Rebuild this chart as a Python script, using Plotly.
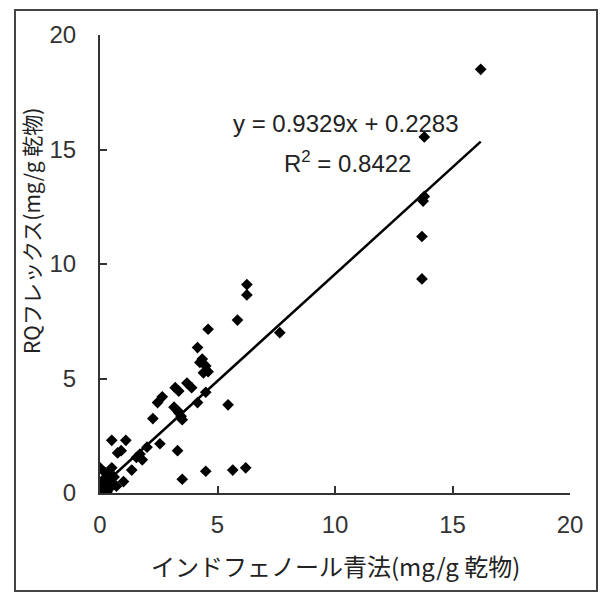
import plotly.graph_objects as go

# Data
x_vals = [16.2, 13.8, 13.8, 13.75, 13.7, 13.7, 7.65, 6.25, 6.25, 5.85, 4.6, 4.15,
          4.35, 4.25, 4.5, 4.6, 4.4, 3.7, 3.9, 3.2, 3.35, 2.65, 2.45, 3.15, 3.35, 3.45,
          3.3, 4.15, 4.5, 5.45, 2.25, 3.5, 2.55, 3.3, 3.5, 4.5, 5.65, 6.2, 1.8, 1.55,
          1.7, 2.0, 0.5, 1.1, 0.75, 0.9, 1.35, 1.0, 0.0, 0.5,
          0.05, 0.1, 0.2, 0.3, 0.15, 0.4, 0.5, 0.6, 0.2, 0.1, 0.3, 0.7, 0.35, 0.0]
y_vals = [18.5, 15.55, 12.95, 12.75, 11.2, 9.35, 7.0, 9.1, 8.65, 7.55, 7.15, 6.35,
          5.85, 5.7, 5.55, 5.3, 5.25, 4.8, 4.6, 4.6, 4.45, 4.2, 3.95, 3.75, 3.5, 3.35,
          3.6, 3.95, 4.4, 3.85, 3.25, 3.2, 2.15, 1.85, 0.6, 0.95, 1.0, 1.1, 1.45, 1.55,
          1.7, 2.0, 2.3, 2.3, 1.75, 1.85, 1.0, 0.5, 1.1, 1.1,
          0.1, 0.3, 0.2, 0.5, 0.6, 0.2, 0.4, 0.7, 0.9, 0.0, 0.05, 0.3, 0.85, 0.4]

slope = 0.9329
intercept = 0.2283
r2_text = "0.8422"
tick_vals = [0, 5, 10, 15, 20]
x_title = "インドフェノール青法(mg/g 乾物)"
y_title = "RQフレックス(mg/g 乾物)"

trend_x = [min(x_vals), max(x_vals)]
trend_y = [slope * v + intercept for v in trend_x]

fig = go.Figure()
fig.add_trace(go.Scatter(x=trend_x, y=trend_y, mode="lines",
                         line=dict(color="black", width=2.5), showlegend=False))
fig.add_trace(go.Scatter(x=x_vals, y=y_vals, mode="markers",
                         marker=dict(symbol="diamond", size=9, color="black",
                                     line=dict(width=0)),
                         showlegend=False))

W, H = 601, 594
ml, mr, mt, mb = 100, 31, 35, 101
pw, ph = W - ml - mr, H - mt - mb

def px(xp):
    return (xp - ml) / pw

def py(yp):
    return (H - mb - yp) / ph

tick_font = dict(family="Liberation Sans, Arial", size=24, color="#333")
axis_common = dict(range=[0, 20], tickvals=tick_vals, showgrid=False, zeroline=False,
                   showline=True, linecolor="#333", linewidth=2,
                   ticks="inside", ticklen=7, tickwidth=1.5, tickcolor="#333",
                   tickfont=tick_font)

text_font = dict(family="Liberation Sans, Arial", size=24, color="#222")

fig.update_layout(
    width=W, height=H,
    margin=dict(l=ml, r=mr, t=mt, b=mb),
    paper_bgcolor="white", plot_bgcolor="white",
    xaxis=dict(**axis_common, ticklabelstandoff=9),
    yaxis=dict(**axis_common, ticklabelstandoff=17),
    shapes=[dict(type="rect", xref="paper", yref="paper",
                 x0=px(15), x1=px(597), y0=py(591), y1=py(10),
                 line=dict(color="#444", width=2), layer="below")],
    annotations=[
        dict(text="y = %.4fx + %.4f" % (slope, intercept), x=px(346), y=py(123),
             xref="paper", yref="paper", showarrow=False,
             xanchor="center", yanchor="middle", font=text_font),
        dict(text="R<sup>2</sup> = " + r2_text, x=px(347), y=py(162),
             xref="paper", yref="paper", showarrow=False,
             xanchor="center", yanchor="middle", font=text_font),
        dict(text=x_title, x=px(335), y=py(565), xref="paper", yref="paper",
             showarrow=False, xanchor="center", yanchor="middle",
             font=dict(family="Noto Sans CJK JP", size=24, color="#222")),
        dict(text=y_title, x=px(31), y=py(231), xref="paper", yref="paper",
             showarrow=False, textangle=-90, xanchor="center", yanchor="middle",
             font=dict(family="Noto Sans CJK JP", size=21, color="#222")),
    ],
)

fig.write_html("out.html")
